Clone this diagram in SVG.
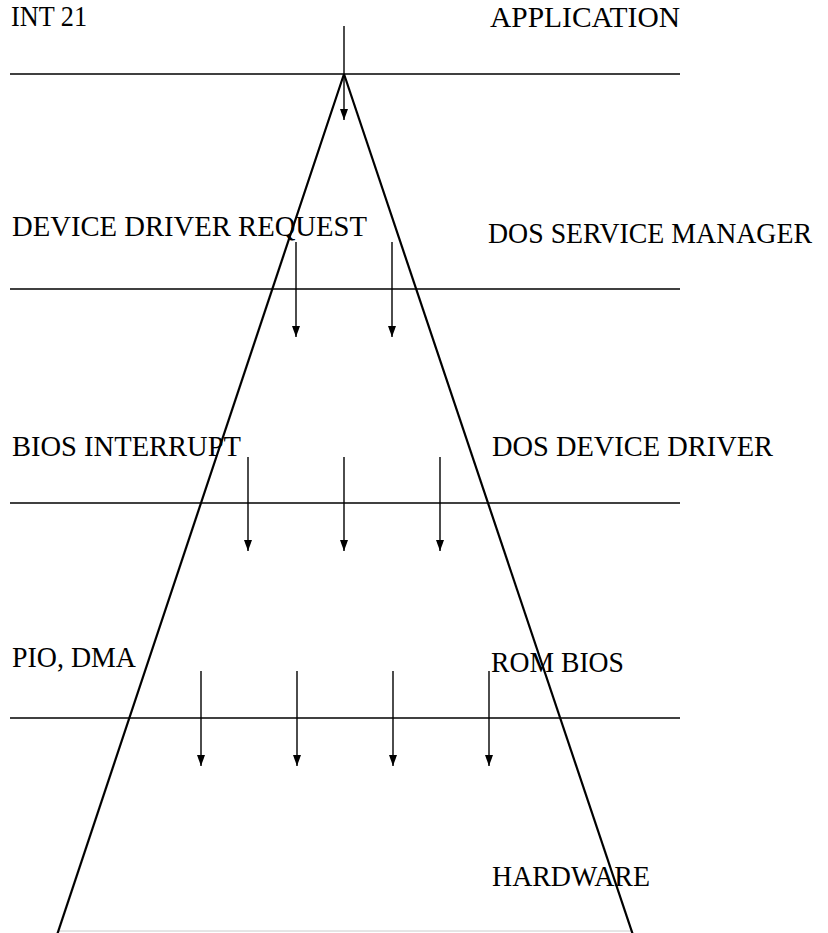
<svg xmlns="http://www.w3.org/2000/svg" width="828" height="933" viewBox="0 0 828 933">
<defs>
<style>
.lbl{font-family:'Liberation Serif','Times New Roman','DejaVu Serif',serif;font-size:28.5px;fill:#000}
.hl{stroke:#000;stroke-width:1.6;fill:none}
.tri{stroke:#000;stroke-width:2.2;fill:none}
.arr{stroke:#000;stroke-width:1.4;fill:none;marker-end:url(#ah)}
</style>
<marker id="ah" markerUnits="userSpaceOnUse" markerWidth="11" markerHeight="8" viewBox="0 0 11 8" refX="11" refY="4" orient="auto">
<path d="M0,0 L11,4 L0,8 Z" fill="#000"/>
</marker>
</defs>
<rect width="828" height="933" fill="#fff"/>
<g id="layers">
<line class="hl" x1="10" y1="74" x2="680" y2="74"/>
<line class="hl" x1="10" y1="289" x2="680" y2="289"/>
<line class="hl" x1="10" y1="503" x2="680" y2="503"/>
<line class="hl" x1="10" y1="718" x2="680" y2="718"/>
<line x1="58" y1="931" x2="632" y2="931" stroke="#ccc" stroke-width="1"/>
</g>
<g id="pyramid">
<line class="tri" x1="344" y1="74" x2="57" y2="935"/>
<line class="tri" x1="344" y1="74" x2="633" y2="935"/>
</g>
<g id="connectors">
<line class="arr" x1="344" y1="26" x2="344" y2="120"/>
<line class="arr" x1="296" y1="242" x2="296" y2="337"/>
<line class="arr" x1="392" y1="242" x2="392" y2="337"/>
<line class="arr" x1="248" y1="457" x2="248" y2="551"/>
<line class="arr" x1="344" y1="457" x2="344" y2="551"/>
<line class="arr" x1="440" y1="457" x2="440" y2="551"/>
<line class="arr" x1="201" y1="671" x2="201" y2="766"/>
<line class="arr" x1="297" y1="671" x2="297" y2="766"/>
<line class="arr" x1="393" y1="671" x2="393" y2="766"/>
<line class="arr" x1="489" y1="671" x2="489" y2="766"/>
</g>
<g id="left-labels">
<text class="lbl" x="11" y="26" textLength="76" lengthAdjust="spacingAndGlyphs">INT 21</text>
<text class="lbl" x="12" y="236" textLength="355" lengthAdjust="spacingAndGlyphs">DEVICE DRIVER REQUEST</text>
<text class="lbl" x="12" y="456" textLength="229" lengthAdjust="spacingAndGlyphs">BIOS INTERRUPT</text>
<text class="lbl" x="12" y="667" textLength="124" lengthAdjust="spacingAndGlyphs">PIO, DMA</text>
</g>
<g id="right-labels">
<text class="lbl" x="490" y="27" textLength="190" lengthAdjust="spacingAndGlyphs">APPLICATION</text>
<text class="lbl" x="488" y="243" textLength="324" lengthAdjust="spacingAndGlyphs">DOS SERVICE MANAGER</text>
<text class="lbl" x="492" y="456" textLength="281" lengthAdjust="spacingAndGlyphs">DOS DEVICE DRIVER</text>
<text class="lbl" x="491" y="672" textLength="133" lengthAdjust="spacingAndGlyphs">ROM BIOS</text>
<text class="lbl" x="492" y="886" textLength="158" lengthAdjust="spacingAndGlyphs">HARDWARE</text>
</g>
</svg>
